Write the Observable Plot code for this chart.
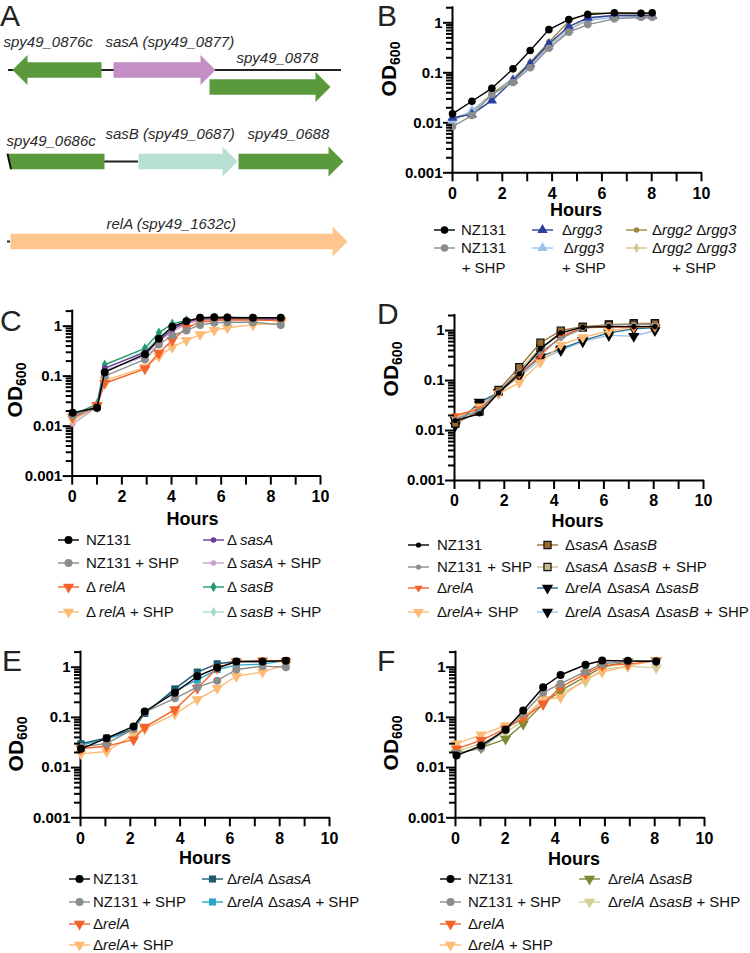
<!DOCTYPE html>
<html><head><meta charset="utf-8">
<script src="https://cdn.jsdelivr.net/npm/d3@7"></script>
<script src="https://cdn.jsdelivr.net/npm/@observablehq/plot@0.6"></script>
<style>
body{margin:0;background:#fff;font-family:"Liberation Sans",Arial,sans-serif;}
#fig{position:relative;width:750px;height:953px;overflow:hidden;background:#fff;}
.letter{position:absolute;font-size:30px;line-height:30px;color:#222;}
.axt{position:absolute;font-weight:bold;font-size:18px;line-height:18px;color:#000;white-space:nowrap;transform:translate(-50%,-50%);}
.od{position:absolute;font-weight:bold;font-size:21px;line-height:24px;color:#000;white-space:nowrap;transform:translate(-50%,-50%) rotate(-90deg);}
.od sub{font-size:14px;vertical-align:-4px;line-height:0;}
.leg{position:absolute;font-size:15px;line-height:20px;white-space:nowrap;color:#111;}
</style></head>
<body><div id="fig"></div>
<script>
// ---------------- Panel A: gene maps ----------------
const geneName  = ["spy49_0878","spy49_0876c","sasA (spy49_0877)","spy49_0686c","sasB (spy49_0687)","spy49_0688","relA (spy49_1632c)"];
const geneLeft  = [209, 12, 113, 7, 138, 238, 10];
const geneRight = [330, 101, 215, 104, 237, 343, 347];
const geneDir   = [1, -1, 1, 0, 1, 1, 1];
const geneTrack = [86.5, 69.5, 69.5, 161, 161, 161, 241];
const geneLabelX = [236, 3, 105, 6, 105, 247, 106];
const geneLabelY = [62, 46.5, 46.5, 145.5, 138, 138, 228];
const backboneTrack = [69.5, 161, 241];
const backboneLeft  = [8, 104, 7];
const backboneRight = [341, 138, 10];
const geneColor = ["#5b9a3c","#5b9a3c","#c48fc5","#5b9a3c","#b8e1d4","#5b9a3c","#fdc68f"];

// ---------------- Panel B ----------------
const hoursB = [0, 0.78, 1.58, 2.43, 3.12, 3.87, 4.67, 5.43, 6.5, 7.57, 8.02];
const B_NZ131 = [0.0151, 0.027, 0.049, 0.12, 0.279, 0.73, 1.16, 1.47, 1.58, 1.55, 1.58];
const B_NZ131_SHP = [0.0084, 0.014, 0.037, 0.064, 0.126, 0.31, 0.65, 0.92, 1.2, 1.29, 1.29];
const B_rgg3 = [0.0126, 0.0147, 0.028, 0.07, 0.151, 0.38, 0.84, 1.26, 1.4, 1.4, 1.4];
const B_rgg3_SHP = [0.0111, 0.0176, 0.035, 0.074, 0.138, 0.34, 0.72, 1.11, 1.29, 1.35, 1.35];
const B_rgg2rgg3 = [0.012, 0.0163, 0.038, 0.076, 0.163, 0.41, 1.08, 1.56, 1.55, 1.55, 1.55];
const B_rgg2rgg3_SHP = [0.0107, 0.0176, 0.037, 0.07, 0.145, 0.35, 0.75, 1.18, 1.45, 1.45, 1.45];

// ---------------- Panel C ----------------
const hoursC = [0.02, 1.0, 1.31, 2.93, 3.49, 4.03, 4.6, 5.15, 5.72, 6.25, 7.28, 8.4];
const C_NZ131 = [0.0185, 0.0233, 0.12, 0.275, 0.56, 0.97, 1.26, 1.47, 1.51, 1.49, 1.47, 1.47];
const C_NZ131_SHP = [0.0164, 0.023, 0.1, 0.216, 0.43, 0.65, 0.82, 1.06, 1.17, 1.2, 1.2, 1.06];
const C_relA = [0.015, 0.026, 0.072, 0.14, 0.29, 0.52, 0.92, 1.2, 1.3, 1.34, 1.33, 1.3];
const C_relA_SHP = [0.0135, 0.024, 0.082, 0.15, 0.25, 0.38, 0.52, 0.68, 0.83, 0.93, 1.06, 1.15];
const C_sasA = [0.014, 0.024, 0.145, 0.3, 0.52, 0.86, 1.2, 1.4, 1.4, 1.4, 1.37, 1.37];
const C_sasA_SHP = [0.011, 0.024, 0.13, 0.25, 0.5, 0.78, 1.12, 1.3, 1.35, 1.35, 1.35, 1.3];
const C_sasB = [0.0164, 0.028, 0.169, 0.36, 0.74, 1.11, 1.3, 1.4, 1.45, 1.45, 1.4, 1.4];
const C_sasB_SHP = [0.0125, 0.026, 0.14, 0.32, 0.6, 0.95, 1.25, 1.35, 1.4, 1.4, 1.37, 1.3];

// ---------------- Panel D ----------------
const hoursD = [0.03, 1.0, 1.77, 2.6, 3.45, 4.27, 5.15, 6.2, 7.2, 8.05];
const D_NZ131 = [0.0158, 0.0216, 0.057, 0.136, 0.43, 0.9, 1.17, 1.2, 1.2, 1.2];
const D_NZ131_SHP = [0.017, 0.025, 0.06, 0.15, 0.37, 0.7, 1.1, 1.3, 1.33, 1.3];
const D_relA = [0.02, 0.027, 0.057, 0.13, 0.32, 0.76, 1.13, 1.17, 1.17, 1.2];
const D_relA_SHP = [0.018, 0.03, 0.055, 0.09, 0.23, 0.52, 0.73, 0.98, 1.17, 1.2];
const D_sasAsasB = [0.0138, 0.025, 0.065, 0.185, 0.57, 1.0, 1.2, 1.3, 1.33, 1.38];
const D_sasAsasB_SHP = [0.014, 0.024, 0.06, 0.16, 0.45, 0.85, 1.15, 1.33, 1.4, 1.4];
const D_relAsasAsasB = [0.0125, 0.037, 0.057, 0.13, 0.3, 0.43, 0.63, 0.9, 1.08, 1.15];
const D_relAsasAsasB_SHP = [0.016, 0.033, 0.058, 0.12, 0.26, 0.4, 0.6, 0.8, 0.77, 1.0];

// ---------------- Panel E ----------------
const hoursE = [0.02, 1.05, 2.13, 2.58, 3.79, 4.69, 5.49, 6.26, 7.31, 8.25];
const E_NZ131 = [0.0237, 0.0386, 0.066, 0.131, 0.31, 0.66, 0.97, 1.3, 1.3, 1.35];
const E_NZ131_SHP = [0.026, 0.03, 0.059, 0.128, 0.24, 0.4, 0.54, 0.9, 1.05, 1.0];
const E_relA = [0.024, 0.0267, 0.036, 0.064, 0.143, 0.38, 0.96, 1.28, 1.35, 1.3];
const E_relA_SHP = [0.0188, 0.021, 0.045, 0.059, 0.118, 0.227, 0.38, 0.66, 0.8, 1.13];
const E_relAsasA = [0.0298, 0.039, 0.059, 0.12, 0.37, 0.8, 1.17, 1.3, 1.3, 1.35];
const E_relAsasA_SHP = [0.028, 0.037, 0.055, 0.125, 0.34, 0.56, 0.9, 1.1, 1.15, 1.35];

// ---------------- Panel F ----------------
const hoursF = [0.04, 1.03, 2.01, 2.72, 3.52, 4.22, 5.22, 5.89, 6.92, 8.06];
const F_NZ131 = [0.0174, 0.0275, 0.057, 0.137, 0.4, 0.7, 1.12, 1.36, 1.34, 1.3];
const F_NZ131_SHP = [0.019, 0.0245, 0.056, 0.118, 0.31, 0.47, 0.82, 1.17, 1.3, 1.35];
const F_relA = [0.0237, 0.035, 0.06, 0.096, 0.186, 0.4, 0.74, 1.08, 1.15, 1.35];
const F_relA_SHP = [0.03, 0.045, 0.069, 0.1, 0.227, 0.25, 0.59, 0.8, 1.05, 1.38];
const F_relAsasB = [0.019, 0.025, 0.037, 0.074, 0.186, 0.34, 0.65, 1.0, 1.3, 1.35];
const F_relAsasB_SHP = [0.021, 0.03, 0.05, 0.085, 0.23, 0.3, 0.52, 0.9, 1.05, 0.97];

// ---------------- Axis ticks ----------------
const xTicks = [0,1,2,3,4,5,6,7,8,9,10];
const yTicks = [0.001, 0.01, 0.1, 1];
const yTickLabels = ["0.001", "0.01", "0.1", "1"];
const yMinorTicks = [0.002,0.003,0.004,0.005,0.006,0.007,0.008,0.009,0.02,0.03,0.04,0.05,0.06,0.07,0.08,0.09,0.2,0.3,0.4,0.5,0.6,0.7,0.8,0.9,2];

// ---------------- helpers ----------------
const fig = document.getElementById("fig");
const triDown = {draw(ctx, size) {
  const y = -Math.sqrt(size / (Math.sqrt(3) * 3));
  ctx.moveTo(0, -y * 2);
  ctx.lineTo(-Math.sqrt(3) * y, y);
  ctx.lineTo(Math.sqrt(3) * y, y);
  ctx.closePath();
}};
const SYM = {circle: d3.symbolCircle, triangle: d3.symbolTriangle, diamond: d3.symbolDiamond, square: d3.symbolSquare, tridown: triDown};

function put(el, left, top) { el.style.position = "absolute"; el.style.left = left + "px"; el.style.top = top + "px"; fig.appendChild(el); }
function div(cls, html, left, top) { const d = document.createElement("div"); d.className = cls; d.innerHTML = html; d.style.left = left + "px"; d.style.top = top + "px"; fig.appendChild(d); return d; }

// ---------------- Panel A plot ----------------
(function () {
  const marks = [];
  marks.push(Plot.ruleY(backboneTrack.map((t, i) => ({t, a: backboneLeft[i], b: backboneRight[i]})), {y: "t", x1: "a", x2: "b", stroke: "#222", strokeWidth: 2}));
  geneName.forEach((g, i) => {
    const L = geneLeft[i], R = geneRight[i], c = geneTrack[i], bh = 7.8, hh = 15, hl = 15;
    let pts;
    if (geneDir[i] === 1) pts = [[L,c-bh],[R-hl,c-bh],[R-hl,c-hh],[R,c],[R-hl,c+hh],[R-hl,c+bh],[L,c+bh]];
    else if (geneDir[i] === -1) pts = [[R,c-bh],[L+hl,c-bh],[L+hl,c-hh],[L,c],[L+hl,c+hh],[L+hl,c+bh],[R,c+bh]];
    else pts = [[L,c-bh],[R,c-bh],[R,c+bh],[L+3.5,c+bh]];
    marks.push(Plot.line(pts.map(([x, y]) => ({x, y})), {x: "x", y: "y", fill: geneColor[i], stroke: "none"}));
    if (geneDir[i] === 0) marks.push(Plot.link([{x1: L, y1: c - bh, x2: L + 3.5, y2: c + bh}], {x1: "x1", y1: "y1", x2: "x2", y2: "y2", stroke: "#111", strokeWidth: 2}));
  });
  marks.push(Plot.text(geneName.map((g, i) => ({g, x: geneLabelX[i], y: geneLabelY[i]})), {x: "x", y: "y", text: "g", textAnchor: "start", lineAnchor: "bottom", fontSize: 15, fontStyle: "italic", fill: "#2a2a2a"}));
  const p = Plot.plot({width: 375, height: 265, margin: 0,
    x: {domain: [0, 375], range: [0, 375], axis: null},
    y: {domain: [0, 265], range: [0, 265], axis: null},
    style: {fontFamily: "'Liberation Sans', Arial, sans-serif", background: "transparent", overflow: "visible"},
    marks});
  put(p, 0, 0);
})();

// ---------------- growth panels ----------------
function growthPanel(cfg) {
  const {hours, series, left, top, ml, mr, mt, mb} = cfg;
  const width = 375, height = 215;
  const marks = [
    Plot.axisY({ticks: yTicks, tickSize: 9, tickPadding: 1, tickFormat: d => yTickLabels[yTicks.indexOf(d)], fontSize: 15, strokeWidth: 2, label: null}),
    Plot.axisX({ticks: xTicks, tickSize: 9, tickPadding: 5.5, tickFormat: d => d % 2 === 0 ? String(d) : "", fontSize: 16, strokeWidth: 2, label: null}),
    Plot.ruleY([0.001], {stroke: "#000", strokeWidth: 2, strokeLinecap: "square"}),
    Plot.ruleX([0], {y1: 0.001, y2: 2, stroke: "#000", strokeWidth: 2, strokeLinecap: "square"})
  ];
  for (const s of [...series].reverse()) {
    const rows = hours.map((h, j) => ({h, v: s.values[j]}));
    marks.push(Plot.line(rows, {x: "h", y: "v", stroke: s.color, strokeWidth: 1.4}));
    marks.push(Plot.dot(rows, {x: "h", y: "v", symbol: SYM[s.sym], r: s.r, fill: s.mfill || s.color, stroke: s.mstroke || "none", strokeWidth: 1.2}));
  }
  const p = Plot.plot({width, height, marginLeft: ml, marginRight: mr, marginTop: mt, marginBottom: mb,
    x: {type: "linear", domain: [0, 10], label: null},
    y: {type: "log", domain: [0.001, 2], label: null},
    style: {fontFamily: "'Liberation Sans', Arial, sans-serif", fontWeight: "bold", color: "#000", background: "transparent", overflow: "visible"},
    marks});
  put(p, left, top);

  // minor log ticks: a separate, identically-scaled overlay plot on top of the panel
  const minor = Plot.plot({width, height, marginLeft: ml, marginRight: mr, marginTop: mt, marginBottom: mb,
    y: {type: "log", domain: [0.001, 2], label: null},
    style: {background: "transparent", overflow: "visible"},
    marks: [Plot.axisY({ticks: yMinorTicks, tickSize: 6, tickPadding: 0, tickFormat: () => "", stroke: "#000", strokeWidth: 2, label: null})]});
  put(minor, left, top);

  // axis titles
  div("axt", "Hours", cfg.hx, cfg.hy);
  div("od", "OD<sub>600</sub>", cfg.ox, cfg.oy);
  // legend
  const symW = cfg.symW || 21;
  for (const s of series) {
    const sx = cfg.cols[s.col][0], tx = cfg.cols[s.col][1], y = cfg.rows[s.row];
    const ns = "http://www.w3.org/2000/svg";
    const sv = document.createElementNS(ns, "svg");
    sv.setAttribute("width", symW); sv.setAttribute("height", 20);
    const ln = document.createElementNS(ns, "line");
    ln.setAttribute("x1", 0); ln.setAttribute("x2", symW); ln.setAttribute("y1", 10); ln.setAttribute("y2", 10);
    ln.setAttribute("stroke", s.color); ln.setAttribute("stroke-width", 1.4);
    sv.appendChild(ln);
    const pa = document.createElementNS(ns, "path");
    pa.setAttribute("d", d3.symbol(SYM[s.sym], Math.PI * s.r * s.r)());
    pa.setAttribute("transform", `translate(${symW / 2},10)`);
    pa.setAttribute("fill", s.mfill || s.color);
    pa.setAttribute("stroke", s.mstroke || "none"); pa.setAttribute("stroke-width", 1.2);
    sv.appendChild(pa);
    sv.style.overflow = "visible";
    put(sv, sx, y - 10);
    const t = div("leg", s.label, tx, y - 10);
    if (cfg.center) t.style.textAlign = "center";
    if (cfg.wordSpacing) t.style.wordSpacing = cfg.wordSpacing;
  }
}

const SHP = " + SHP";
growthPanel({hours: hoursB, left: 375, top: 0, ml: 77, mr: 49, mt: 7.25, mb: 42.7,
  hx: 576, hy: 209.5, ox: 389, oy: 69, center: true,
  cols: [[434, 461], [532, 562], [626, 652]], rows: [230, 248],
  series: [
    {label: "NZ131", values: B_NZ131, color: "#000000", sym: "circle", r: 3.8, col: 0, row: 0},
    {label: "NZ131<br>+ SHP", values: B_NZ131_SHP, color: "#8c8c8c", sym: "circle", r: 3.8, col: 0, row: 1},
    {label: "Δ<i>rgg3</i>", values: B_rgg3, color: "#2c3e9f", sym: "triangle", r: 3.8, col: 1, row: 0},
    {label: "Δ<i>rgg3</i><br>+ SHP", values: B_rgg3_SHP, color: "#9cc2e8", sym: "triangle", r: 3.8, col: 1, row: 1},
    {label: "Δ<i>rgg2</i> Δ<i>rgg3</i>", values: B_rgg2rgg3, color: "#9b8a3d", sym: "circle", r: 2.8, col: 2, row: 0},
    {label: "Δ<i>rgg2</i> Δ<i>rgg3</i><br>+ SHP", values: B_rgg2rgg3_SHP, color: "#d5c68d", sym: "diamond", r: 3, col: 2, row: 1}
  ]});

growthPanel({hours: hoursC, left: 0, top: 300, ml: 71.7, mr: 55, mt: 10.6, mb: 39.4,
  hx: 192.5, hy: 518.5, ox: 14.5, oy: 390,
  cols: [[58, 86], [203, 227]], rows: [540, 563, 587, 612],
  series: [
    {label: "NZ131", values: C_NZ131, color: "#000000", sym: "circle", r: 4, col: 0, row: 0},
    {label: "NZ131" + SHP, values: C_NZ131_SHP, color: "#8c8c8c", sym: "circle", r: 4, col: 0, row: 1},
    {label: "Δ&thinsp;<i>relA</i>", values: C_relA, color: "#f4632a", sym: "tridown", r: 4.2, col: 0, row: 2},
    {label: "Δ&thinsp;<i>relA</i>" + SHP, values: C_relA_SHP, color: "#fdbb75", sym: "tridown", r: 4.2, col: 0, row: 3},
    {label: "Δ&thinsp;<i>sasA</i>", values: C_sasA, color: "#6b3c99", sym: "circle", r: 2.8, col: 1, row: 0},
    {label: "Δ&thinsp;<i>sasA</i>" + SHP, values: C_sasA_SHP, color: "#c7a1d6", sym: "circle", r: 2.8, col: 1, row: 1},
    {label: "Δ&thinsp;<i>sasB</i>", values: C_sasB, color: "#1e9b6c", sym: "diamond", r: 3.2, col: 1, row: 2},
    {label: "Δ&thinsp;<i>sasB</i>" + SHP, values: C_sasB_SHP, color: "#a9dcc6", sym: "diamond", r: 3.2, col: 1, row: 3}
  ]});

growthPanel({hours: hoursD, left: 375, top: 300, ml: 79, mr: 47, mt: 15, mb: 35,
  hx: 577.5, hy: 521, ox: 390.5, oy: 369, wordSpacing: "1px",
  cols: [[408, 437], [537, 565]], rows: [545, 567, 588, 612],
  series: [
    {label: "NZ131", values: D_NZ131, color: "#000000", sym: "circle", r: 2.6, col: 0, row: 0},
    {label: "NZ131" + SHP, values: D_NZ131_SHP, color: "#8c8c8c", sym: "circle", r: 2.6, col: 0, row: 1},
    {label: "Δ<i>relA</i>", values: D_relA, color: "#f4632a", sym: "tridown", r: 3, col: 0, row: 2},
    {label: "Δ<i>relA</i>+ SHP", values: D_relA_SHP, color: "#fdbb75", sym: "tridown", r: 4, col: 0, row: 3},
    {label: "Δ<i>sasA</i> Δ<i>sasB</i>", values: D_sasAsasB, color: "#a0743a", mfill: "#9a6a2a", mstroke: "#111", sym: "square", r: 4, col: 1, row: 0},
    {label: "Δ<i>sasA</i> Δ<i>sasB</i>" + SHP, values: D_sasAsasB_SHP, color: "#cfc39a", mfill: "#c9b98a", mstroke: "#111", sym: "square", r: 4, col: 1, row: 1},
    {label: "Δ<i>relA</i> Δ<i>sasA</i> Δ<i>sasB</i>", values: D_relAsasAsasB, color: "#1f6f8b", mfill: "#000", sym: "tridown", r: 4.2, col: 1, row: 2},
    {label: "Δ<i>relA</i> Δ<i>sasA</i> Δ<i>sasB</i>" + SHP, values: D_relAsasAsasB_SHP, color: "#9dc3e6", mfill: "#000", sym: "tridown", r: 4.2, col: 1, row: 3}
  ]});

growthPanel({hours: hoursE, left: 0, top: 640, ml: 80, mr: 46, mt: 11.6, mb: 37.7,
  hx: 205, hy: 857.5, ox: 15.5, oy: 743.5,
  cols: [[69, 93], [202, 227]], rows: [879, 902, 924, 945],
  series: [
    {label: "NZ131", values: E_NZ131, color: "#000000", sym: "circle", r: 4, col: 0, row: 0},
    {label: "NZ131" + SHP, values: E_NZ131_SHP, color: "#8c8c8c", sym: "circle", r: 4, col: 0, row: 1},
    {label: "Δ<i>relA</i>", values: E_relA, color: "#f4632a", sym: "tridown", r: 4.2, col: 0, row: 2},
    {label: "Δ<i>relA</i>+ SHP", values: E_relA_SHP, color: "#fdbb75", sym: "tridown", r: 4.2, col: 0, row: 3},
    {label: "Δ<i>relA</i> Δ<i>sasA</i>", values: E_relAsasA, color: "#1c5a6e", sym: "square", r: 4, col: 1, row: 0},
    {label: "Δ<i>relA</i> Δ<i>sasA</i>" + SHP, values: E_relAsasA_SHP, color: "#2aa6c6", sym: "square", r: 4, col: 1, row: 1}
  ]});

growthPanel({hours: hoursF, left: 375, top: 640, ml: 80, mr: 46, mt: 11.6, mb: 37.7,
  hx: 574, hy: 858.5, ox: 390.5, oy: 742.5,
  cols: [[440, 468], [579, 608]], rows: [879, 902, 924, 945],
  series: [
    {label: "NZ131", values: F_NZ131, color: "#000000", sym: "circle", r: 4, col: 0, row: 0},
    {label: "NZ131" + SHP, values: F_NZ131_SHP, color: "#8c8c8c", sym: "circle", r: 4, col: 0, row: 1},
    {label: "Δ<i>relA</i>", values: F_relA, color: "#f4632a", sym: "tridown", r: 4.2, col: 0, row: 2},
    {label: "Δ<i>relA</i>" + SHP, values: F_relA_SHP, color: "#fdbb75", sym: "tridown", r: 4.2, col: 0, row: 3},
    {label: "Δ<i>relA</i> Δ<i>sasB</i>", values: F_relAsasB, color: "#7d8a36", sym: "tridown", r: 4.2, col: 1, row: 0},
    {label: "Δ<i>relA</i> Δ<i>sasB</i>" + SHP, values: F_relAsasB_SHP, color: "#d3d09a", sym: "tridown", r: 4.2, col: 1, row: 1}
  ]});

// panel letters
[["A", 0, 1], ["B", 377, 1], ["C", 0, 306], ["D", 377, 299], ["E", 2, 646], ["F", 377, 646]].forEach(([t, x, y]) => div("letter", t, x, y));
</script></body></html>
